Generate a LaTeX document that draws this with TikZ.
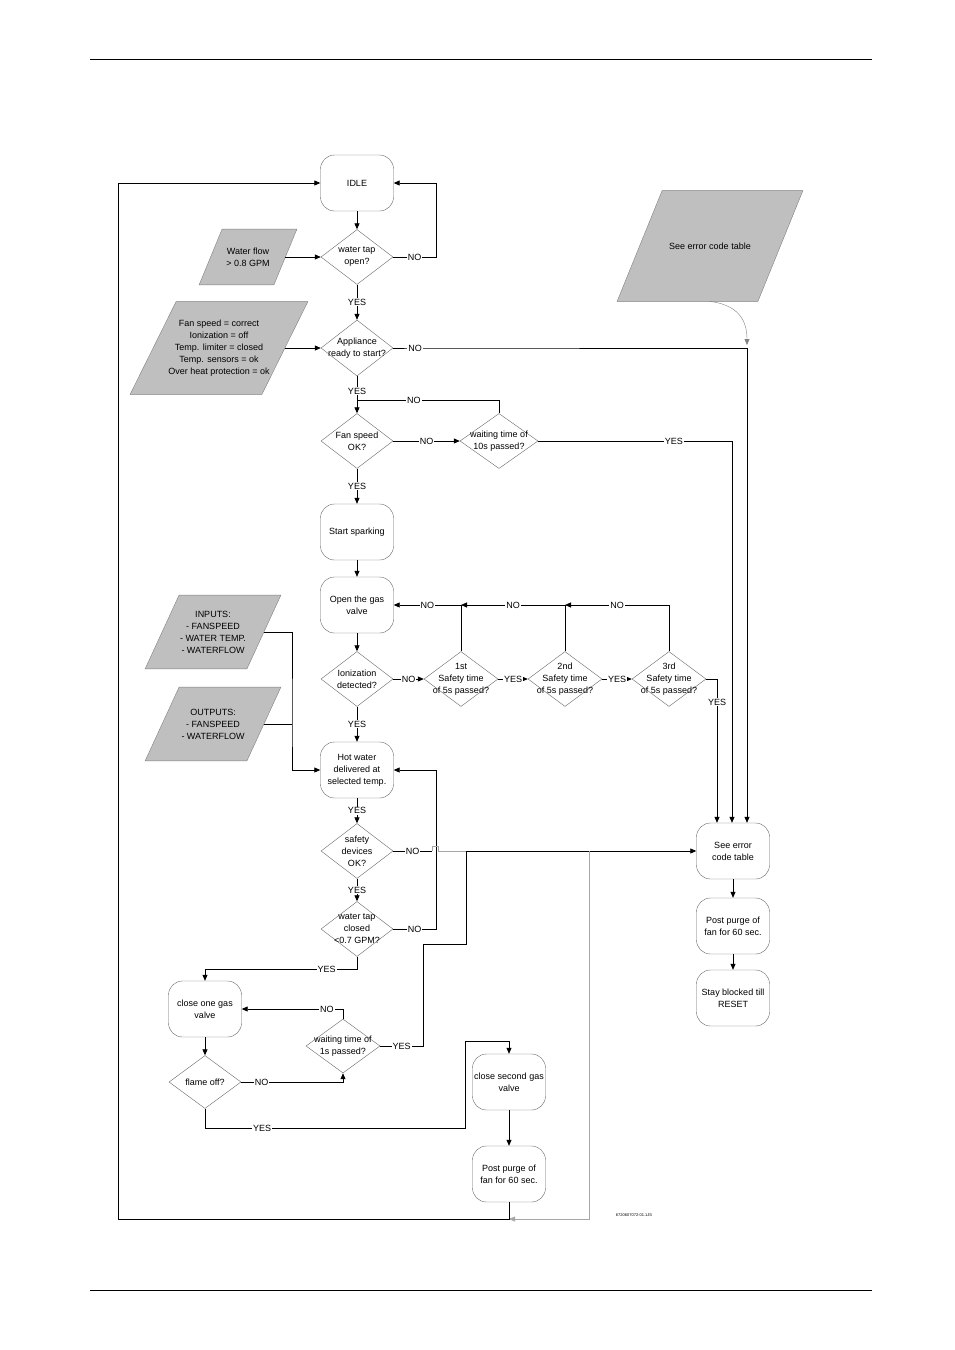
\documentclass[tikz,border=0pt]{standalone}
\usepackage{fontspec}
\setmainfont{Liberation Sans}
\usetikzlibrary{shapes.geometric,arrows.meta,calc,backgrounds}

\begin{document}
\begin{tikzpicture}[x=1pt, y=-1pt, >={Triangle[length=6pt,width=5pt]}, line width=0.8pt,
  font=\fontsize{9}{12}\selectfont,
  box/.style={draw=gray!80!black, line width=0.4pt, rounded corners=14pt, minimum width=73pt, minimum height=56pt, align=center, inner sep=1pt},
  dec/.style={draw=gray!80!black, line width=0.4pt, diamond, inner sep=-12pt, minimum width=72pt, minimum height=55pt, align=center},
  io/.style={inner sep=0pt, align=center},
  lbl/.style={fill=white, inner sep=1pt},
  faint/.style={gray!70, line width=0.5pt}]
  \useasboundingbox (0,0) rectangle (954,1350);
  \draw (90,59) -- (872,59);
  \draw (90,1290) -- (872,1290);

  \node[box] (idle) at (357,183) {IDLE};
  \node[dec] (tapopen) at (357,257) {water tap\\open?};
  \node[io, minimum width=74pt, minimum height=55pt] (flow) at (248,257) {Water flow\\> 0.8 GPM};
  \node[dec, minimum height=56pt] (ready) at (357,348) {Appliance\\ready to start?};
  \node[io, minimum width=131pt, minimum height=92pt] (cond) at (219,348) {Fan speed = correct\\Ionization = off\\Temp. limiter = closed\\Temp. sensors = ok\\Over heat protection = ok};
  \node[dec] (fanok) at (357,441) {Fan speed\\OK?};
  \node[dec, minimum width=78pt] (wait10) at (499,441) {waiting time of\\10s passed?};
  \node[box] (spark) at (357,532) {Start sparking};
  \node[box] (opengas) at (357,605) {Open the gas\\valve};
  \node[dec] (ion) at (357,679) {Ionization\\detected?};
  \node[dec, minimum width=74pt] (safe1) at (461,679) {1st\\Safety time\\of 5s passed?};
  \node[dec, minimum width=74pt] (safe2) at (565,679) {2nd\\Safety time\\of 5s passed?};
  \node[dec, minimum width=74pt] (safe3) at (669,679) {3rd\\Safety time\\of 5s passed?};
  \node[io, minimum width=101pt, minimum height=73pt] (inputs) at (213,632) {INPUTS:\\- FANSPEED\\- WATER TEMP.\\- WATERFLOW};
  \node[io, minimum width=101pt, minimum height=73pt] (outputs) at (213,724) {OUTPUTS:\\- FANSPEED\\- WATERFLOW};
  \node[box] (hot) at (357,770) {Hot water\\delivered at\\selected temp.};
  \node[dec] (safedev) at (357,851) {safety\\devices\\OK?};
  \node[dec] (tapclosed) at (357,929) {water tap\\closed\\<0.7 GPM?};
  \node[box] (close1) at (205,1009) {close one gas\\valve};
  \node[dec, minimum height=53pt] (flame) at (205,1082) {flame off?};
  \node[dec, minimum width=74pt, minimum height=54pt] (wait1) at (343,1046) {waiting time of\\1s passed?};
  \node[box] (close2) at (509,1082) {close second gas\\valve};
  \node[box] (purge2) at (509,1174) {Post purge of\\fan for 60 sec.};
  \node[box] (errbox) at (733,851) {See error\\code table};
  \node[box] (purge1) at (733,926) {Post purge of\\fan for 60 sec.};
  \node[box] (blocked) at (733,998) {Stay blocked till\\RESET};
  \node[io, minimum width=140pt, minimum height=110pt] (errtab) at (710,246) {See error code table};
  \node[font=\fontsize{4}{5}\selectfont] (code) at (634,1215) {6720607072-01.1JS};

  \begin{scope}[on background layer]
    \foreach \n/\s in {flow/11.5, cond/23, inputs/17, outputs/17, errtab/22.5}
      \filldraw[fill=gray!50, draw=gray, line width=0.4pt] ($(\n.south west)+(-\s,0)$) -- ($(\n.south east)+(-\s,0)$) -- ($(\n.north east)+(\s,0)$) -- ($(\n.north west)+(\s,0)$) -- cycle;
  \end{scope}

  \coordinate (fanjoin) at (357,400);
  \coordinate (bus) at (292,724);
  \coordinate (j1) at (466,851);
  \coordinate (j2) at (589,851);
  \coordinate (retn) at (509,1219);
  \coordinate (errcorner) at (747,345);

  \draw[->] (idle) -- (tapopen);
  \draw[->] (flow) -- (tapopen);
  \draw[->] (tapopen.east) -- node[lbl]{NO} (436,257) |- (idle.east);
  \draw[->] (tapopen) -- node[lbl]{YES} (ready);
  \draw[->] (cond) -- (ready);
  \draw[->] (ready.east) -- ++(22,0) node[lbl]{NO} -| ([xshift=14pt]errbox.north);
  \draw[->] (ready) -- node[lbl, pos=0.4]{YES} (fanok);
  \draw (wait10.north) |- node[lbl, pos=0.8]{NO} (fanjoin);
  \draw[->] (fanok) -- node[lbl]{NO} (wait10);
  \draw[->] (wait10.east) -| node[lbl, pos=0.35]{YES} ([xshift=-1pt]errbox.north);
  \draw[->] (fanok) -- node[lbl]{YES} (spark);
  \draw[->] (spark) -- (opengas);
  \draw[->] (opengas) -- (ion);
  \draw[->] (ion) -- node[lbl]{NO} (safe1);
  \draw[->] (safe1) -- node[lbl]{YES} (safe2);
  \draw[->] (safe2) -- node[lbl]{YES} (safe3);
  \draw[->] (safe3.east) -| node[lbl, pos=0.58]{YES} ([xshift=-16pt]errbox.north);
  \draw[->] (safe1.north) |- node[lbl, pos=0.75]{NO} (opengas.east);
  \draw[->] (safe2.north) |- node[lbl, pos=0.75]{NO} (safe1.north |- opengas.east);
  \draw[->] (safe3.north) |- node[lbl, pos=0.75]{NO} (safe2.north |- opengas.east);
  \draw[->] (ion) -- node[lbl]{YES} (hot);
  \draw (outputs) -- (bus);
  \draw[->] (inputs.east) -| (bus) |- (hot.west);
  \draw[->] (hot) -- node[lbl]{YES} (safedev);
  \draw[->] (safedev) -- node[lbl]{YES} (tapclosed);
  \draw[->] (tapclosed.east) -- node[lbl]{NO} (436,929) |- (hot.east);
  \draw (safedev.east) -- node[lbl]{NO} (432,851);
  \draw[faint] (432,851) -- ++(0,-5) -- ++(6,0) -- ++(0,5) -- (j1);
  \draw[->] (wait1.east) -- node[lbl]{YES} (423,1046) |- (466,944) -- (j1) -- (errbox.west);
  \draw[->, faint] (j2) |- (retn);
  \draw[->] (purge2.south) |- (118,1219) |- (idle.west);
  \draw[->] (tapclosed.south) -- ++(0,13) -| node[lbl, pos=0.1]{YES} (close1.north);
  \draw[->] (close1) -- (flame);
  \draw[->] (flame.east) -| node[lbl, pos=0.1]{NO} (wait1.south);
  \draw[->] (wait1.north) |- node[lbl, pos=0.58]{NO} (close1.east);
  \draw[->] (flame.south) |- node[lbl, pos=0.61]{YES} (465,1128) |- ([yshift=12pt]close2.north) -- (close2.north);
  \draw[->] (close2) -- (purge2);
  \draw[->] (errbox) -- (purge1);
  \draw[->] (purge1) -- (blocked);
  \draw[->, gray, line width=0.4pt] (errtab.south) .. controls (738,305) and (747,320) .. (errcorner);
\end{tikzpicture}
\end{document}
